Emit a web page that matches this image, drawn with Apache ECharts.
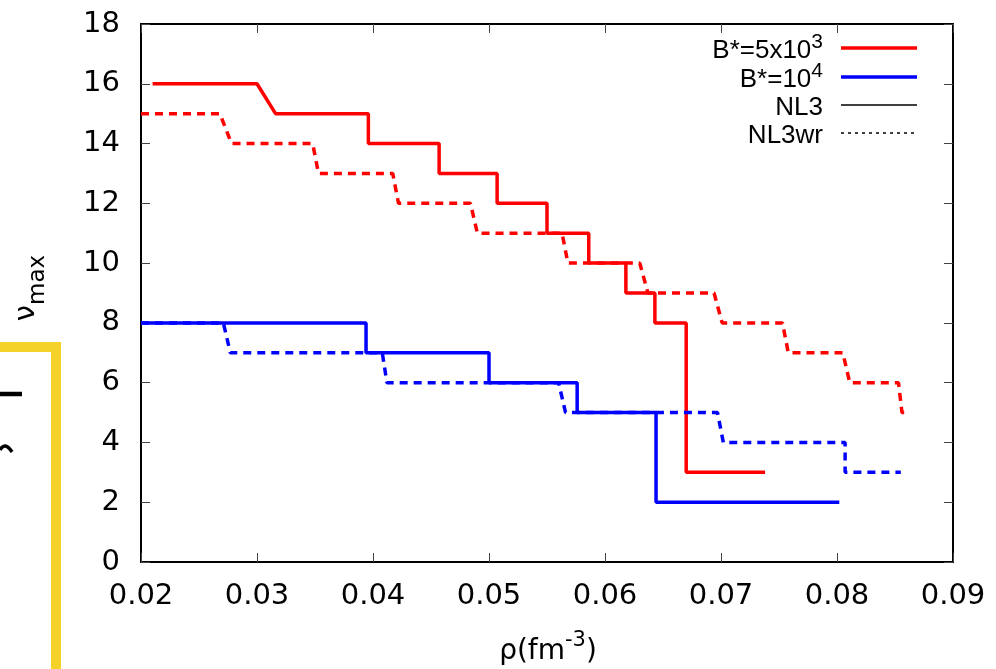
<!DOCTYPE html>
<html>
<head>
<meta charset="utf-8">
<script src="https://cdn.jsdelivr.net/npm/echarts@6/dist/echarts.min.js"></script>
<style>
  html, body { margin: 0; padding: 0; background: #fff; }
  #chart1 { width: 996px; height: 669px; }
</style>
</head>
<body>
<div id="chart1"></div>
<script>
// x ticks / y ticks
var xTicks = [0.02, 0.03, 0.04, 0.05, 0.06, 0.07, 0.08, 0.09];
var yTicks = [0, 2, 4, 6, 8, 10, 12, 14, 16, 18];

// B*=5x10^3, NL3 (red solid)
var redNL3 = [[0.0210, 16], [0.0300, 16], [0.0316, 15], [0.0396, 15], [0.0396, 14], [0.0457, 14], [0.0457, 13],
  [0.0507, 13], [0.0507, 12], [0.0550, 12], [0.0550, 11], [0.0586, 11], [0.0586, 10], [0.0618, 10], [0.0618, 9],
  [0.0643, 9], [0.0643, 8], [0.0670, 8], [0.0670, 3], [0.0738, 3]];
// B*=5x10^3, NL3wr (red dashed)
var redNL3wr = [[0.0200, 15], [0.0268, 15], [0.0278, 14], [0.0348, 14], [0.0353, 13], [0.0417, 13], [0.0422, 12],
  [0.0484, 12], [0.0490, 11], [0.0563, 11], [0.0568, 10], [0.0630, 10], [0.0637, 9], [0.0694, 9], [0.0701, 8],
  [0.0753, 8], [0.0758, 7], [0.0805, 7], [0.0811, 6], [0.0853, 6], [0.0856, 5], [0.0861, 5]];
// B*=10^4, NL3 (blue solid)
var blueNL3 = [[0.0200, 8], [0.0394, 8], [0.0394, 7], [0.0500, 7], [0.0500, 6], [0.0576, 6], [0.0576, 5],
  [0.0644, 5], [0.0644, 2], [0.0802, 2]];
// B*=10^4, NL3wr (blue dashed)
var blueNL3wr = [[0.0200, 8], [0.0271, 8], [0.0277, 7], [0.0408, 7], [0.0412, 6], [0.0560, 6], [0.0566, 5],
  [0.0697, 5], [0.0702, 4], [0.0807, 4], [0.0807, 3], [0.0855, 3]];

var font = '"Liberation Sans", Arial, sans-serif';
var wide = '"DejaVu Sans", sans-serif';
var dash = [8, 6];

var myChart = echarts.init(document.getElementById('chart1'));

function tickAxis(pos, isX, showLabel) {
    return {
        type: 'value',
        position: pos,
        min: isX ? xTicks[0] : yTicks[0],
        max: isX ? xTicks[xTicks.length - 1] : yTicks[yTicks.length - 1],
        interval: isX ? 0.01 : 2,
        splitLine: { show: false },
        axisLine: { show: true, onZero: false, lineStyle: { color: '#000', width: 2 } },
        axisTick: { show: true, inside: true, length: 9, lineStyle: { color: '#444', width: 1 } },
        axisLabel: {
            show: showLabel,
            color: '#000',
            fontSize: 29,
            fontFamily: wide,
            margin: isX ? 20 : 21,
            formatter: function (v) { return isX ? v.toFixed(2) : String(Math.round(v)); }
        }
    };
}

function legendRow(y, label, color, lineType) {
    return [{
        type: 'text',
        x: 823, y: y,
        style: {
            text: label,
            align: 'right',
            verticalAlign: 'middle',
            fill: '#000',
            rich: {
                b: { fontSize: 26, fontFamily: font, lineHeight: 32, verticalAlign: 'bottom' },
                s: { fontSize: 21, fontFamily: font, lineHeight: 18, verticalAlign: 'top' }
            }
        }
    }, {
        type: 'line',
        shape: { x1: 841, y1: y, x2: 917, y2: y },
        style: { stroke: color, lineWidth: color === '#000' ? 1.4 : 3.5, lineDash: lineType }
    }];
}

var graphics = [];
graphics = graphics.concat(legendRow(48, '{b|B*=5x10}{s|3}', '#ff0000', null));
graphics = graphics.concat(legendRow(77, '{b|B*=10}{s|4}', '#0000ff', null));
graphics = graphics.concat(legendRow(105, '{b|NL3}', '#000', null));
graphics = graphics.concat(legendRow(133, '{b|NL3wr}', '#000', [3, 4]));

// axis names
graphics.push({
    type: 'text',
    x: 31, y: 288,
    rotation: Math.PI / 2,
    style: {
        text: '{n|ν}{s|max}',
        align: 'center',
        verticalAlign: 'middle',
        fill: '#000',
        rich: {
            n: { fontSize: 29, fontFamily: wide, lineHeight: 38, verticalAlign: 'top' },
            s: { fontSize: 23, fontFamily: wide, lineHeight: 26, verticalAlign: 'bottom' }
        }
    }
});
graphics.push({
    type: 'text',
    x: 548, y: 648,
    style: {
        text: '{b|ρ(fm}{s|-3}{b|)}',
        align: 'center',
        verticalAlign: 'middle',
        fill: '#000',
        rich: {
            b: { fontSize: 28, fontFamily: wide, lineHeight: 36, verticalAlign: 'bottom' },
            s: { fontSize: 21, fontFamily: wide, lineHeight: 20, verticalAlign: 'top' }
        }
    }
});

// yellow frame and marks on the left edge
graphics.push({
    type: 'rect',
    shape: { x: -60, y: 347, width: 116, height: 400 },
    style: { fill: 'none', stroke: '#f5d22a', lineWidth: 10 }
});
graphics.push({
    type: 'line',
    shape: { x1: 0, y1: 394, x2: 22, y2: 394 },
    style: { stroke: '#000', lineWidth: 4.5 }
});
graphics.push({
    type: 'bezierCurve',
    shape: { x1: 0, y1: 450, cpx1: 5, cpy1: 441, x2: 12, y2: 452 },
    style: { stroke: '#000', lineWidth: 3.5, fill: 'none' }
});

function lineSeries(name, data, color, type) {
    return {
        name: name,
        type: 'line',
        data: data,
        showSymbol: false,
        symbol: 'none',
        lineStyle: { color: color, width: 3.5, type: type },
        z: 3
    };
}

var option = {
    backgroundColor: '#fff',
    animation: false,
    grid: { left: 141, right: 43, top: 24, bottom: 107, containLabel: false },
    xAxis: [tickAxis('bottom', true, true), tickAxis('top', true, false)],
    yAxis: [tickAxis('left', false, true), tickAxis('right', false, false)],
    series: [
        lineSeries('B*=5x10^3 NL3', redNL3, '#ff0000', 'solid'),
        lineSeries('B*=5x10^3 NL3wr', redNL3wr, '#ff0000', dash),
        lineSeries('B*=10^4 NL3', blueNL3, '#0000ff', 'solid'),
        lineSeries('B*=10^4 NL3wr', blueNL3wr, '#0000ff', dash)
    ],
    graphic: graphics
};

myChart.setOption(option);
</script>
</body>
</html>
